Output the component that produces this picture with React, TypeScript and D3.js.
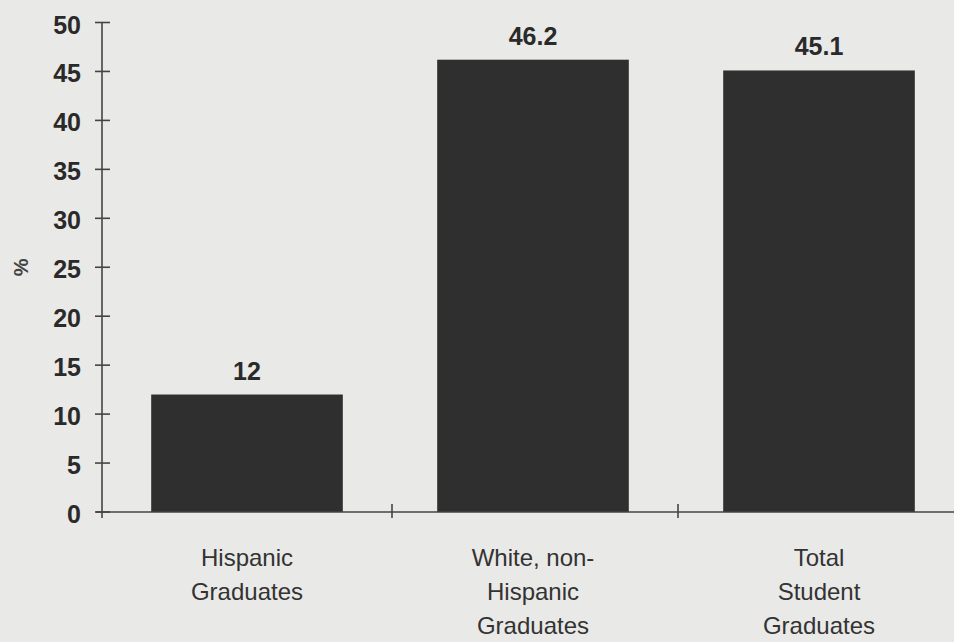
import React from "react";
import * as d3 from "d3";

const categories: string[][] = [
  ["Hispanic", "Graduates"],
  ["White, non-", "Hispanic", "Graduates"],
  ["Total", "Student", "Graduates"],
];
const values: number[] = [12, 46.2, 45.1];
const valueLabels: string[] = ["12", "46.2", "45.1"];
const yTicks: number[] = [0, 5, 10, 15, 20, 25, 30, 35, 40, 45, 50];
const yLabel = "%";

const W = 954;
const H = 642;
const BG = "#e9e9e7";
const INK = "#2f2f2f";
const FONT = "'Liberation Sans', Arial, Helvetica, sans-serif";

export default function App() {
  const keys = categories.map((_, i) => String(i));
  const x = d3
    .scaleBand<string>()
    .domain(keys)
    .range([104, 962])
    .paddingInner(0.33)
    .paddingOuter(0.165);
  const y = d3.scaleLinear().domain([0, 50]).range([512, 22.5]);
  const axisX = 102;
  const step = x.step();
  const x0 = x.range()[0];

  return (
    <div style={{ position: "fixed", left: 0, top: 0, width: W, height: H, background: BG }}>
      <svg width={W} height={H} style={{ display: "block" }} fontFamily={FONT}>
        <rect x={0} y={0} width={W} height={H} fill={BG} />
        {values.map((v, i) => (
          <rect
            key={"b" + i}
            x={x(keys[i])!}
            y={y(v)}
            width={x.bandwidth()}
            height={y(0) - y(v)}
            fill={INK}
          />
        ))}
        {values.map((v, i) => (
          <text
            key={"v" + i}
            x={x(keys[i])! + x.bandwidth() / 2}
            y={y(v) - 15}
            textAnchor="middle"
            fontSize={25}
            fontWeight="bold"
            fill="#2a2a2a"
          >
            {valueLabels[i]}
          </text>
        ))}
        <line x1={axisX} x2={axisX} y1={y(50)} y2={y(0) + 6} stroke="#444" strokeWidth={1.6} />
        {yTicks.map((t) => (
          <g key={"t" + t}>
            <line x1={95} x2={110} y1={y(t)} y2={y(t)} stroke="#444" strokeWidth={1.6} />
            <text
              x={81}
              y={y(t) + 11}
              textAnchor="end"
              fontSize={25}
              fontWeight="bold"
              fill="#2a2a2a"
            >
              {t}
            </text>
          </g>
        ))}
        <line x1={96} x2={W} y1={y(0)} y2={y(0)} stroke="#444" strokeWidth={1.6} />
        {[1, 2].map((k) => (
          <line
            key={"s" + k}
            x1={x0 + step * k + 2}
            x2={x0 + step * k + 2}
            y1={y(0) - 8}
            y2={y(0) + 6}
            stroke="#444"
            strokeWidth={1.6}
          />
        ))}
        {categories.map((lines, i) => (
          <text
            key={"c" + i}
            x={x(keys[i])! + x.bandwidth() / 2}
            y={566}
            textAnchor="middle"
            fontSize={24}
            fill="#333"
          >
            {lines.map((l, j) => (
              <tspan key={j} x={x(keys[i])! + x.bandwidth() / 2} y={566 + j * 34}>
                {l}
              </tspan>
            ))}
          </text>
        ))}
        <text
          transform={`translate(28, ${y(25)}) rotate(-90)`}
          textAnchor="middle"
          fontSize={20}
          fontWeight="bold"
          fill="#444"
        >
          {yLabel}
        </text>
      </svg>
    </div>
  );
}
